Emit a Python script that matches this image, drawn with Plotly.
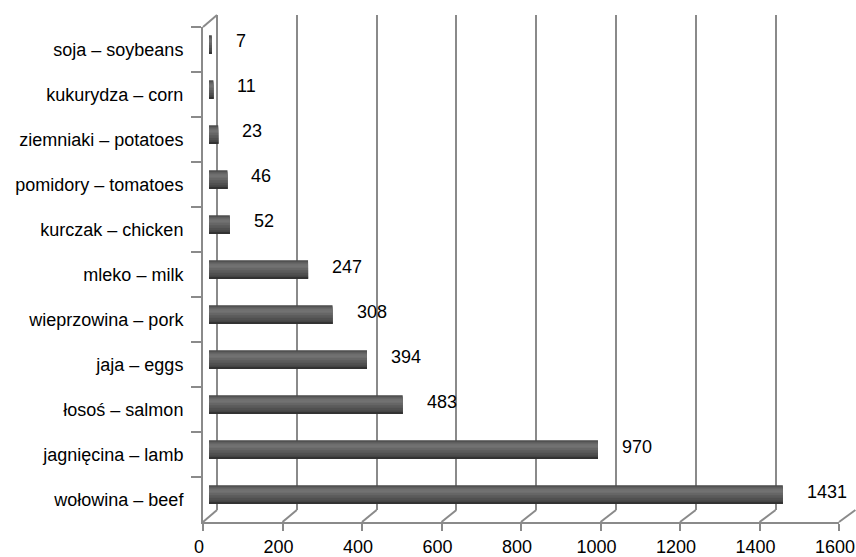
import plotly.graph_objects as go

# ---- data ----
categories = ["soja – soybeans", "kukurydza – corn", "ziemniaki – potatoes",
              "pomidory – tomatoes", "kurczak – chicken", "mleko – milk",
              "wieprzowina – pork", "jaja – eggs", "łosoś – salmon",
              "jagnięcina – lamb", "wołowina – beef"]
values = [7, 11, 23, 46, 52, 247, 308, 394, 483, 970, 1431]
x_ticks = [0, 200, 400, 600, 800, 1000, 1200, 1400, 1600]

# ---- geometry (pixels) ----
W, H = 856, 557
L, R, T, B = 203, 0, 15, 35
PW, PH = W - L - R, H - T - B          # plot area size
FRONT0, FRONT_S = 203, 0.3975          # front floor axis
BACK0, BACK_S = 217, 0.399             # back wall
BAR0, BAR_S = 209, 0.401               # bar (mid depth)
FRONT_BOTTOM, BACK_BOTTOM = 522, 510
FRONT_TOP, BACK_TOP = 27, 15
BAR_SHIFT = 5

def px_to_paper_x(px):
    return (px - L) / PW

def py_to_paper_y(py):
    return (H - B - py) / PH

GRID = "#8a8a8a"
FONT = dict(family="Arial, Liberation Sans, sans-serif", size=18, color="#000000")

fig = go.Figure()

# front axis subplot (category labels + value ticks)
fig.add_trace(go.Scatter(x=[0] * len(categories), y=categories, mode="markers",
                         marker=dict(opacity=0), hoverinfo="skip", showlegend=False,
                         xaxis="x", yaxis="y"))
# back wall subplot (gridlines)
fig.add_trace(go.Scatter(x=[0], y=[0], mode="markers", marker=dict(opacity=0),
                         hoverinfo="skip", showlegend=False, xaxis="x2", yaxis="y2"))

# cylinder bars as overlapping gradient bands (each band runs to the bottom edge)
bar_w = 0.41
bands = [
    ("#474747", 0.00),
    ("#5e5e5e", 0.07),
    ("#6e6e6e", 0.17),
    ("#727272", 0.27),
    ("#666666", 0.40),
    ("#5b5b5b", 0.54),
    ("#505050", 0.68),
    ("#444444", 0.82),
    ("#323232", 0.92),
]
for col, a in bands:
    fig.add_trace(go.Bar(
        x=values, y=categories, orientation="h",
        width=bar_w * (1 - a), offset=-bar_w / 2 + bar_w * a,
        marker=dict(color=col, line=dict(width=0)),
        hoverinfo="skip", showlegend=False, xaxis="x3", yaxis="y3"))

# data labels
for c, v in zip(categories, values):
    fig.add_annotation(x=v, y=c, xref="x3", yref="y3", text=str(v),
                       xanchor="left", yanchor="middle", xshift=22, yshift=3,
                       showarrow=False, font=FONT)

# floor slant lines and left wall top edge
shapes = []
for t in x_ticks:
    shapes.append(dict(type="line", xref="paper", yref="paper",
                       x0=px_to_paper_x(FRONT0 + FRONT_S * t), y0=py_to_paper_y(FRONT_BOTTOM),
                       x1=px_to_paper_x(BACK0 + BACK_S * t), y1=py_to_paper_y(BACK_BOTTOM),
                       line=dict(color=GRID, width=2), layer="below"))
shapes.append(dict(type="line", xref="paper", yref="paper",
                   x0=px_to_paper_x(FRONT0), y0=py_to_paper_y(FRONT_TOP),
                   x1=px_to_paper_x(BACK0), y1=py_to_paper_y(BACK_TOP),
                   line=dict(color=GRID, width=2), layer="below"))

front_max = FRONT0 + FRONT_S * 1600
fig.update_layout(
    width=W, height=H,
    margin=dict(l=L, r=R, t=T, b=B, pad=0, autoexpand=False),
    paper_bgcolor="white", plot_bgcolor="rgba(0,0,0,0)",
    barmode="overlay", font=FONT, showlegend=False,
    shapes=shapes,
    xaxis=dict(domain=[0, (front_max - L) / PW], anchor="y", range=[0, 1600],
               tickvals=x_ticks, ticks="outside", ticklen=7, tickwidth=2, tickcolor=GRID,
               showline=True, linecolor=GRID, linewidth=2, showgrid=False, zeroline=False,
               tickfont=FONT, ticklabeloverflow="allow", ticklabelshift=-4,
               automargin=False, fixedrange=True),
    yaxis=dict(domain=[0, (FRONT_BOTTOM - FRONT_TOP) / PH], anchor="x", type="category",
               categoryarray=categories, range=[len(categories) - 0.5, -0.5],
               tickson="boundaries", ticks="outside", ticklen=10, tickwidth=2, tickcolor=GRID,
               showline=True, linecolor=GRID, linewidth=2, showgrid=False, zeroline=False,
               tickfont=FONT, ticklabelstandoff=14, automargin=False, fixedrange=True),
    xaxis2=dict(domain=[0, 1], anchor="y2",
                range=[(L - BACK0) / BACK_S, (W - R - BACK0) / BACK_S],
                tickvals=x_ticks, showticklabels=False, ticks="", showgrid=True,
                gridcolor=GRID, gridwidth=2, zeroline=False, showline=False,
                automargin=False, fixedrange=True),
    yaxis2=dict(domain=[(FRONT_BOTTOM - BACK_BOTTOM) / PH, 1], anchor="x2",
                showticklabels=False, ticks="", showgrid=False, zeroline=False,
                showline=False, range=[0, 1], automargin=False, fixedrange=True),
    xaxis3=dict(domain=[0, 1], anchor="y3",
                range=[(L - BAR0) / BAR_S, (W - R - BAR0) / BAR_S],
                visible=False, automargin=False, fixedrange=True),
    yaxis3=dict(domain=[BAR_SHIFT / PH, (FRONT_BOTTOM - FRONT_TOP + BAR_SHIFT) / PH],
                anchor="x3", type="category", categoryarray=categories,
                range=[len(categories) - 0.5, -0.5], visible=False,
                automargin=False, fixedrange=True),
)

fig.write_html("out.html", config={"displayModeBar": False},
               post_script="document.body.style.margin='0';")
